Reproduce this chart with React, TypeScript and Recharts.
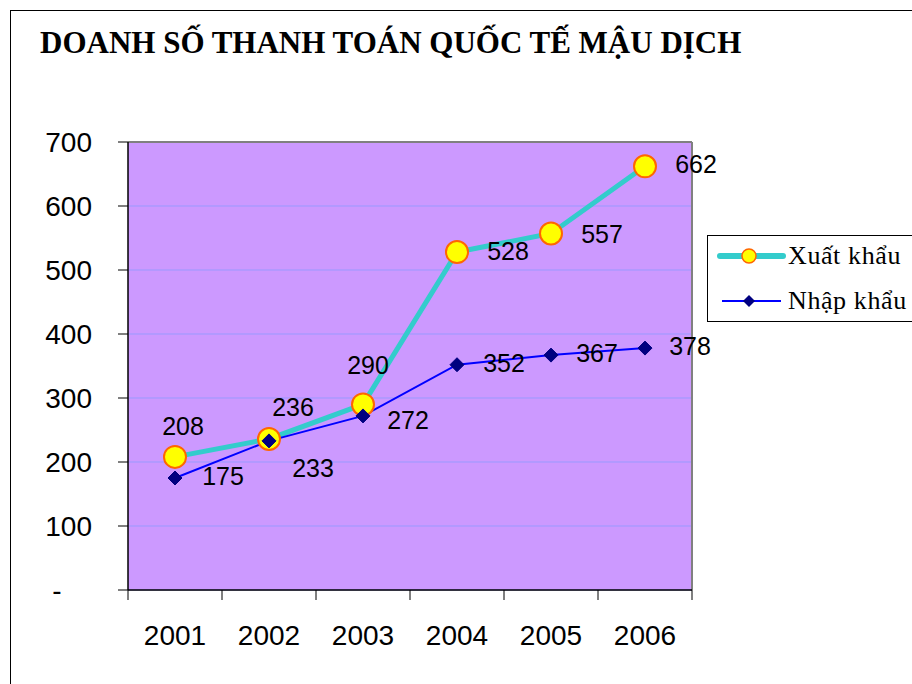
import React from 'react';
import {
  LineChart,
  Line,
  XAxis,
  YAxis,
  CartesianGrid,
  Legend,
  LabelList,
} from 'recharts';

const years = ['2001', '2002', '2003', '2004', '2005', '2006'];
const exportValues = [208, 236, 290, 528, 557, 662];
const importValues = [175, 233, 272, 352, 367, 378];
const yTicks = [0, 100, 200, 300, 400, 500, 600, 700];

const data = years.map((year, i) => ({
  year,
  export: exportValues[i],
  import: importValues[i],
}));

// label placement copied from the excel sheet (dx, dy from the point)
const exportLabelOffsets = [
  [8, -31],
  [24, -32],
  [5, -39],
  [51, -1],
  [51, 0],
  [51, -2],
];
const importLabelOffsets = [
  [48, -2],
  [44, 27],
  [45, 4],
  [47, -2],
  [46, -2],
  [45, -2],
];

const HALF_BAND = 47;
const PLOT_TOP = 142;
const PLOT_RIGHT = 692;

const makeLabel = (offsets: number[][]) => (props: any) => {
  const { x, y, value, index } = props;
  const [dx, dy] = offsets[index] || [0, 0];
  return (
    <text
      x={x + dx}
      y={y + dy}
      textAnchor="middle"
      dominantBaseline="central"
      fontFamily="'Liberation Sans', Arial, sans-serif"
      fontSize={25}
      fill="#000"
    >
      {value}
    </text>
  );
};

const Diamond = (props: any) => {
  const { cx, cy } = props;
  if (cx == null || cy == null) return null;
  const s = 7;
  return (
    <path
      d={`M${cx},${cy - s} L${cx + s},${cy} L${cx},${cy + s} L${cx - s},${cy} Z`}
      fill="#000080"
      stroke="#000080"
    />
  );
};

const XTick = (props: any) => {
  const { x, y, payload, index } = props;
  const axisY = y - 8;
  return (
    <g>
      <line x1={x - HALF_BAND} y1={axisY} x2={x - HALF_BAND} y2={axisY + 10} stroke="#000" />
      {index === years.length - 1 && (
        <line x1={x + HALF_BAND} y1={axisY} x2={x + HALF_BAND} y2={axisY + 10} stroke="#000" />
      )}
      <text
        x={x}
        y={axisY + 45}
        textAnchor="middle"
        dominantBaseline="central"
        fontFamily="'Liberation Sans', Arial, sans-serif"
        fontSize={28}
        fill="#000"
      >
        {payload.value}
      </text>
    </g>
  );
};

const YTick = (props: any) => {
  const { x, y, payload } = props;
  const isZero = payload.value === 0;
  return (
    <text
      x={isZero ? x - 35 : x}
      y={y}
      textAnchor={isZero ? 'middle' : 'end'}
      dominantBaseline="central"
      fontFamily="'Liberation Sans', Arial, sans-serif"
      fontSize={28}
      fill="#000"
    >
      {isZero ? '-' : payload.value}
    </text>
  );
};

const LegendBox = () => (
  <div
    style={{
      position: 'absolute',
      left: 707,
      top: 235,
      width: 220,
      height: 87,
      border: '1px solid #000',
      background: '#fff',
      fontFamily: "'Liberation Serif', 'Times New Roman', serif",
      fontSize: 26,
      letterSpacing: 0.6,
      color: '#000',
      boxSizing: 'border-box',
    }}
  >
    <svg width={80} height={87} style={{ position: 'absolute', left: 0, top: 0 }}>
      <line x1={12} y1={20} x2={75} y2={20} stroke="#33CCCC" strokeWidth={6} strokeLinecap="round" />
      <circle cx={41} cy={20} r={7} fill="#FFFF00" stroke="#FF6600" strokeWidth={1.5} />
      <line x1={14} y1={65} x2={73} y2={65} stroke="#0000FF" strokeWidth={2} />
      <path d="M41,59 L47,65 L41,71 L35,65 Z" fill="#000080" />
    </svg>
    <div style={{ position: 'absolute', left: 80, top: 3, lineHeight: '34px', whiteSpace: 'nowrap' }}>
      Xuất khẩu
    </div>
    <div style={{ position: 'absolute', left: 80, top: 48, lineHeight: '34px', whiteSpace: 'nowrap' }}>
      Nhập khẩu
    </div>
  </div>
);

const App: React.FC = () => {
  return (
    <div
      style={{
        position: 'absolute',
        left: 0,
        top: 0,
        width: 912,
        height: 684,
        overflow: 'hidden',
        background: '#fff',
      }}
    >
      <div
        style={{
          position: 'absolute',
          left: 10,
          top: 10,
          width: 940,
          height: 720,
          border: '1.5px solid #000',
        }}
      />
      <div
        style={{
          position: 'absolute',
          left: 40,
          top: 25,
          fontFamily: "'Liberation Serif', 'Times New Roman', serif",
          fontWeight: 'bold',
          fontSize: 31,
          whiteSpace: 'nowrap',
          color: '#000',
        }}
      >
        DOANH SỐ THANH TOÁN QUỐC TẾ MẬU DỊCH
      </div>
      <div style={{ position: 'absolute', left: 0, top: 0 }}>
        <LineChart
          width={912}
          height={684}
          data={data}
          margin={{ top: PLOT_TOP, right: 912 - PLOT_RIGHT, bottom: 44, left: 28 }}
        >
          <CartesianGrid
            vertical={false}
            stroke="#9999FF"
            fill="#CC99FF"
            fillOpacity={1}
          />
          <CartesianGrid
            horizontalPoints={[PLOT_TOP]}
            verticalPoints={[PLOT_RIGHT]}
            stroke="#808080"
            strokeWidth={2}
            fill="none"
          />
          <XAxis
            dataKey="year"
            height={50}
            padding={{ left: HALF_BAND, right: HALF_BAND }}
            axisLine={{ stroke: '#000', strokeWidth: 1.5 }}
            tickLine={false}
            tick={<XTick />}
            interval={0}
          />
          <YAxis
            width={100}
            domain={[0, 700]}
            ticks={yTicks}
            interval={0}
            axisLine={{ stroke: '#000', strokeWidth: 1.5 }}
            tickLine={{ stroke: '#000' }}
            tickSize={10}
            tick={<YTick />}
            tickMargin={26}
          />
          <Legend
            content={() => <LegendBox />}
            wrapperStyle={{ position: 'absolute', left: 0, top: 0, width: 0, height: 0 }}
          />
          <Line
            type="linear"
            dataKey="export"
            name="Xuất khẩu"
            stroke="#33CCCC"
            strokeWidth={5}
            dot={{ r: 11, fill: '#FFFF00', stroke: '#FF6600', strokeWidth: 2 }}
            activeDot={false}
            isAnimationActive={false}
          >
            <LabelList dataKey="export" content={makeLabel(exportLabelOffsets)} />
          </Line>
          <Line
            type="linear"
            dataKey="import"
            name="Nhập khẩu"
            stroke="#0000FF"
            strokeWidth={2}
            dot={<Diamond />}
            activeDot={false}
            isAnimationActive={false}
          >
            <LabelList dataKey="import" content={makeLabel(importLabelOffsets)} />
          </Line>
        </LineChart>
      </div>
    </div>
  );
};

export default App;
